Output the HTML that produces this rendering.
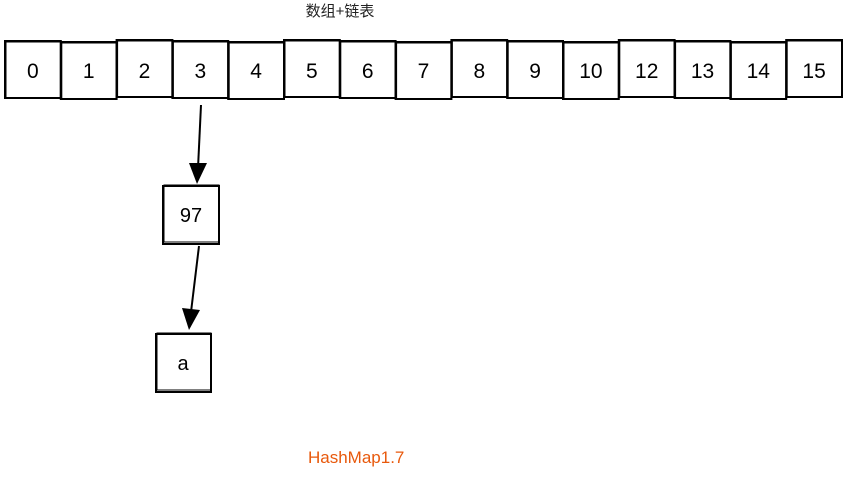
<!DOCTYPE html>
<html><head><meta charset="utf-8"><style>
html,body{margin:0;padding:0;background:#fff;width:849px;height:479px;overflow:hidden}
svg text{font-family:"Liberation Sans","Noto Sans CJK SC",sans-serif}
</style></head><body>
<svg width="849" height="479" viewBox="0 0 849 479">
<text x="340" y="16" font-size="15" text-anchor="middle" fill="#222">数组+链表</text>
<g id="arr"></g>
<g>
<line x1="201" y1="105" x2="198" y2="168" stroke="#000" stroke-width="2"/>
<polygon points="189,163 207,163 197,184" fill="#000"/>
</g>
<g>
<rect x="163" y="186" width="56" height="58" fill="none" stroke="#000" stroke-width="2"/>
<rect x="164" y="185" width="55" height="57" fill="none" stroke="#000" stroke-width="1"/>
<text x="191" y="222" font-size="20" text-anchor="middle">97</text>
</g>
<g>
<line x1="199" y1="246" x2="191" y2="312" stroke="#000" stroke-width="2"/>
<polygon points="182,308 200,310 189,330" fill="#000"/>
</g>
<g>
<rect x="156" y="334" width="55" height="58" fill="none" stroke="#000" stroke-width="2"/>
<rect x="157" y="333" width="54" height="57" fill="none" stroke="#000" stroke-width="1"/>
<text x="183" y="370" font-size="20" text-anchor="middle">a</text>
</g>
<text x="308" y="463" font-size="17" fill="#e8590c">HashMap1.7</text>
</svg>
<script>
const labels=["0","1","2","3","4","5","6","7","8","9","10","12","13","14","15"];
const g=document.getElementById('arr');
const ns="http://www.w3.org/2000/svg";
const x0=5,w=(842-5)/labels.length;
labels.forEach((l,i)=>{
  const grp=document.createElementNS(ns,'g');
  
  
  const x=x0+i*w, y=41+(i%3===2?-1:(i%3===1?1:0));
  const r=document.createElementNS(ns,'rect');
  r.setAttribute('x',x);r.setAttribute('y',y);r.setAttribute('width',w);r.setAttribute('height',57);
  r.setAttribute('fill','none');r.setAttribute('stroke','#000');r.setAttribute('stroke-width','2');
  grp.appendChild(r);
  const r2=document.createElementNS(ns,'rect');
  r2.setAttribute('x',x+1);r2.setAttribute('y',y+1);r2.setAttribute('width',w-1);r2.setAttribute('height',56);
  r2.setAttribute('fill','none');r2.setAttribute('stroke','#000');r2.setAttribute('stroke-width','1');
  grp.appendChild(r2);
  const t=document.createElementNS(ns,'text');
  t.setAttribute('x',x+w/2);t.setAttribute('y',78);t.setAttribute('font-size','21');
  t.setAttribute('text-anchor','middle');t.textContent=l;
  grp.appendChild(t);
  g.appendChild(grp);
});
</script>
</body></html>
